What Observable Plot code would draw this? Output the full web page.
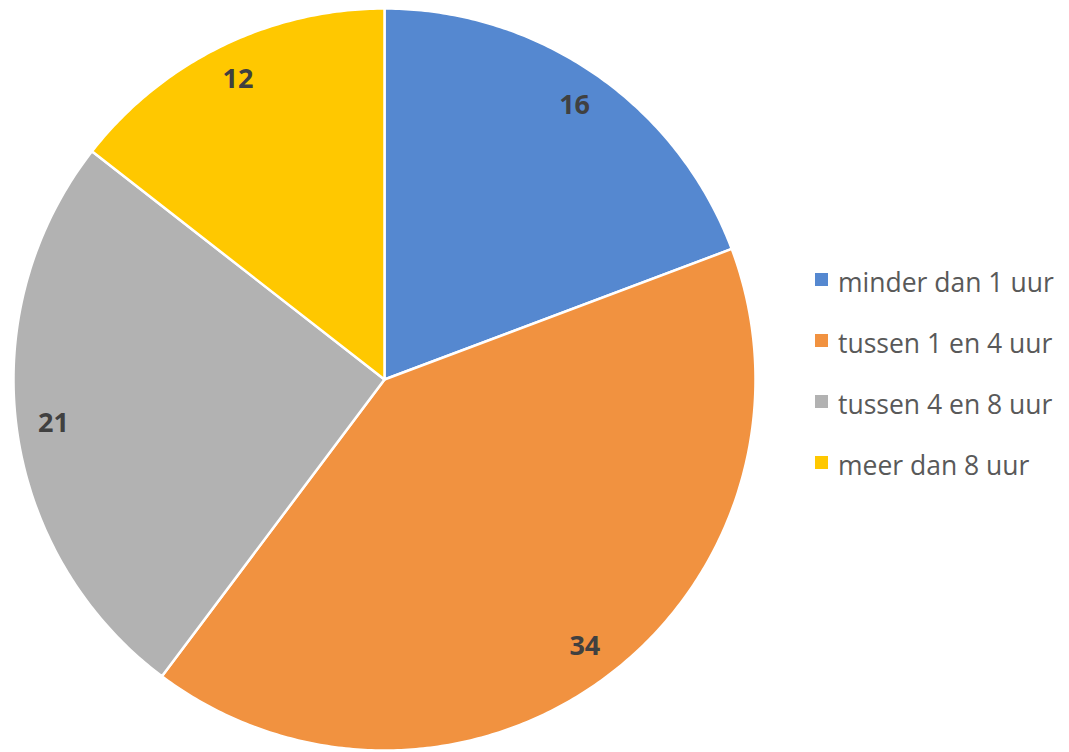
<!DOCTYPE html>
<html>
<head>
<meta charset="utf-8">
<script src="https://cdn.jsdelivr.net/npm/d3@7"></script>
<script src="https://cdn.jsdelivr.net/npm/@observablehq/plot@0.6"></script>
<style>
  html, body { margin: 0; padding: 0; background: #fff; }
  #wrap { position: relative; width: 1069px; height: 752px; }
  #legend { position: absolute; left: 815px; top: 251px; font-family: "Open Sans", sans-serif; font-size: 26.5px; color: #595959; }
  .item { display: flex; align-items: center; height: 61px; white-space: nowrap; }
  .sw { width: 13px; height: 13px; margin-right: 10px; margin-top: -4px; flex: none; }
</style>
</head>
<body>
<div id="wrap"><div id="legend"></div></div>
<script>
const categories = ["minder dan 1 uur", "tussen 1 en 4 uur", "tussen 4 en 8 uur", "meer dan 8 uur"];
const values = [16, 34, 21, 12];
const colors = ["#5588D0", "#F19240", "#B2B2B2", "#FFC800"];

const data = categories.map((c, i) => ({category: c, value: values[i]}));
const arcs = d3.pie().sort(null).value(d => d.value)(data);

// slice outlines in unit-circle coordinates (angle measured clockwise from top)
const outline = [];
for (const a of arcs) {
  const n = Math.max(2, Math.ceil((a.endAngle - a.startAngle) / 0.01));
  outline.push({category: a.data.category, x: 0, y: 0});
  for (let k = 0; k <= n; k++) {
    const t = a.startAngle + (a.endAngle - a.startAngle) * k / n;
    outline.push({category: a.data.category, x: Math.sin(t), y: Math.cos(t)});
  }
  outline.push({category: a.data.category, x: 0, y: 0});
}
const labelR = 0.9;
const labels = arcs.map(a => {
  const m = (a.startAngle + a.endAngle) / 2;
  return {category: a.data.category, value: a.data.value, x: labelR * Math.sin(m), y: labelR * Math.cos(m)};
});

const chart = Plot.plot({
  width: 1069,
  height: 752,
  marginLeft: 13,
  marginRight: 314,
  marginTop: 8,
  marginBottom: 2,
  x: {domain: [-1, 1], axis: null},
  y: {domain: [-1, 1], axis: null},
  color: {domain: categories, range: colors},
  style: {fontFamily: "'Open Sans', sans-serif", background: "white"},
  marks: [
    Plot.line(outline, {x: "x", y: "y", z: "category", fill: "category", stroke: "white", strokeWidth: 2.5, curve: "linear", strokeLinejoin: "round"}),
    Plot.text(labels, {x: "x", y: "y", text: d => String(d.value), fill: "#404040", fontSize: 27, fontWeight: "bold"})
  ]
});
document.getElementById("wrap").prepend(chart);

const legend = document.getElementById("legend");
categories.forEach((c, i) => {
  const it = document.createElement("div");
  it.className = "item";
  const sw = document.createElement("span");
  sw.className = "sw";
  sw.style.background = colors[i];
  const tx = document.createElement("span");
  tx.textContent = c;
  it.appendChild(sw); it.appendChild(tx);
  legend.appendChild(it);
});
</script>
</body>
</html>
